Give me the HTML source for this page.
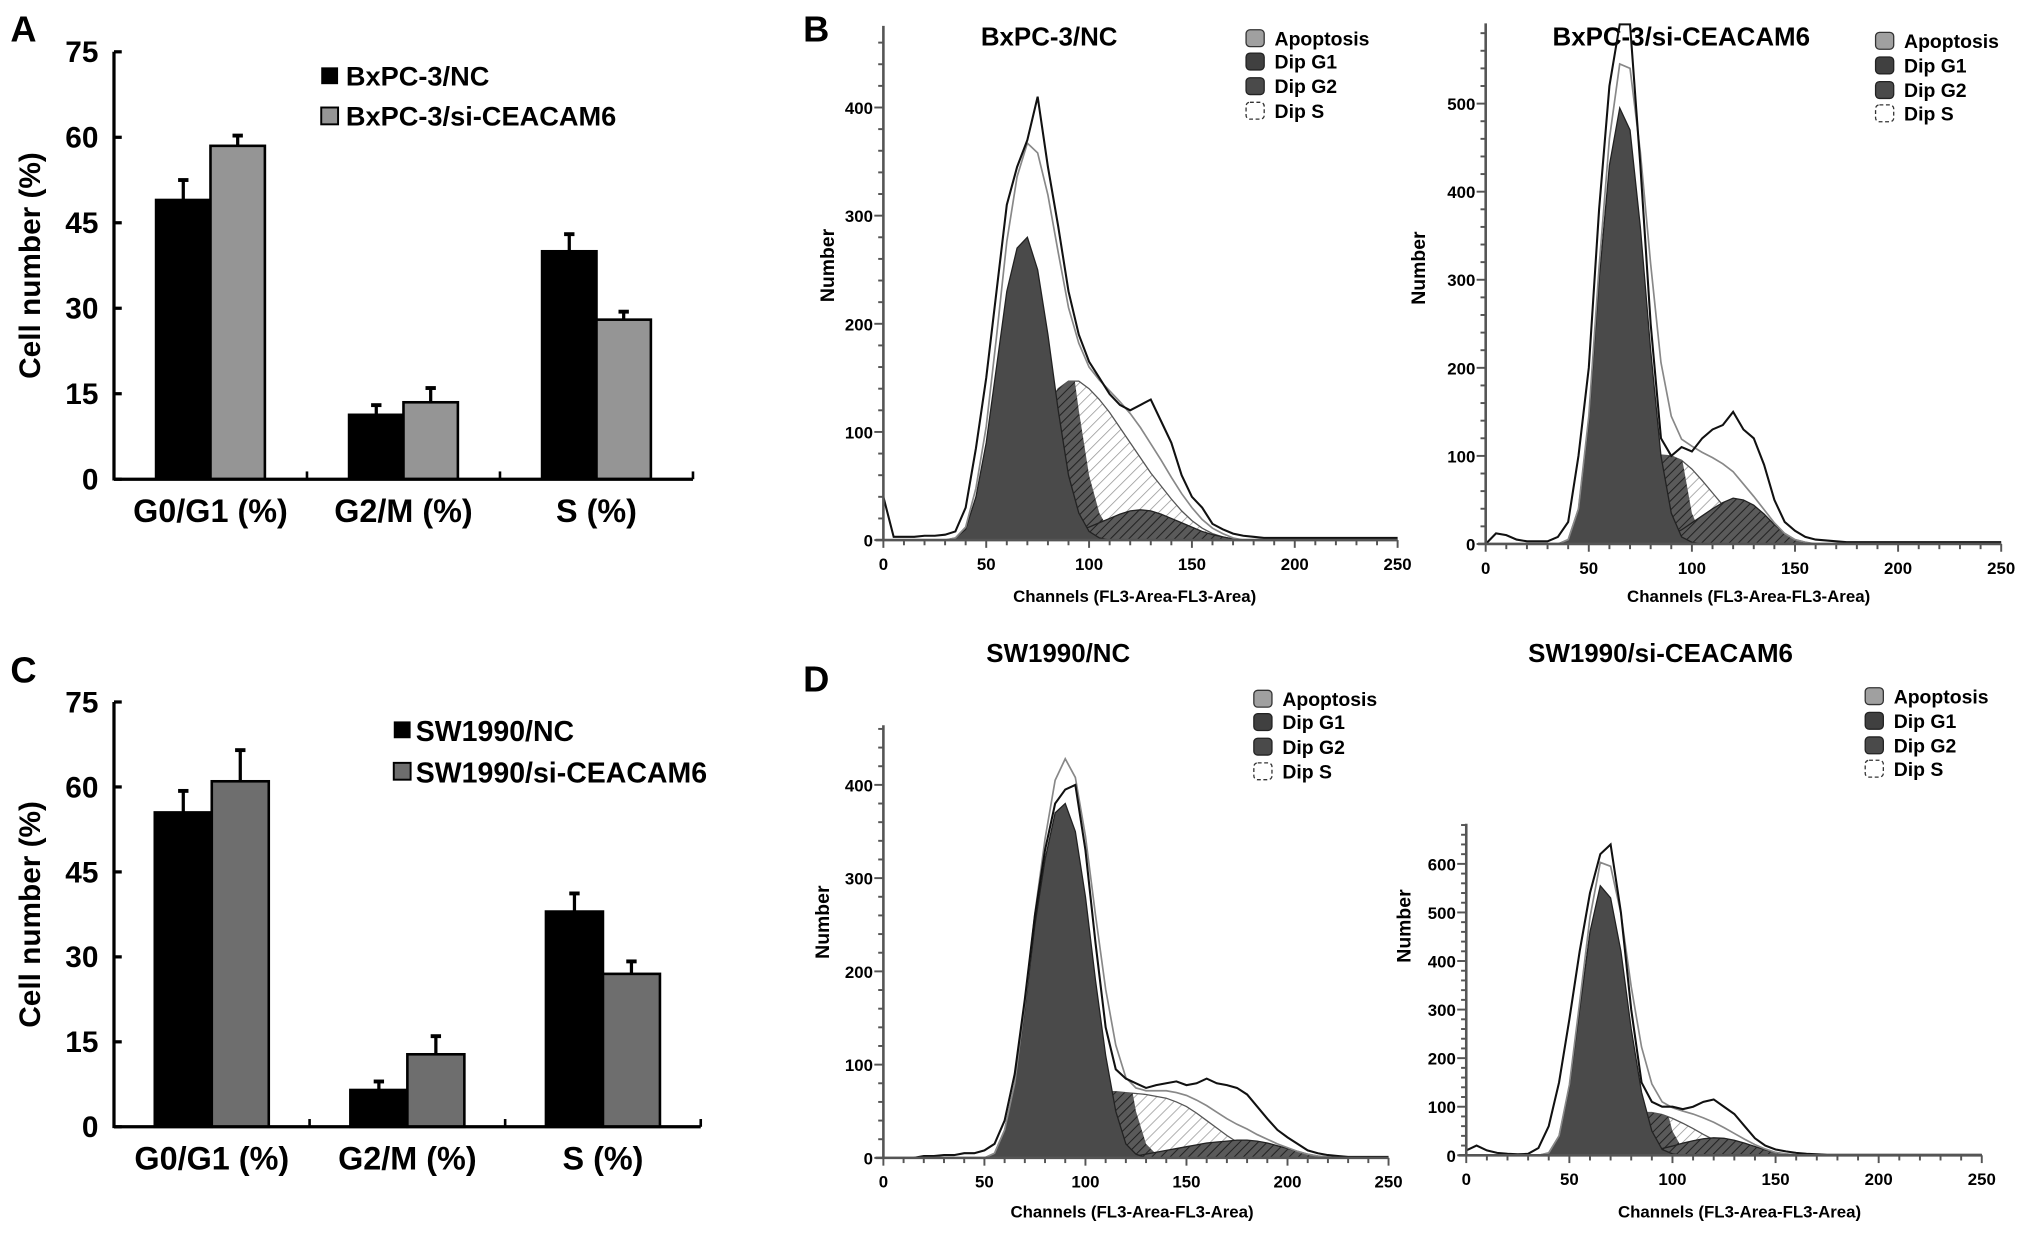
<!DOCTYPE html>
<html><head><meta charset="utf-8"><style>
html,body{margin:0;padding:0;background:#fff;}
svg{display:block;font-family:"Liberation Sans",Arial,sans-serif;font-weight:bold;}
</style></head><body>
<svg id="fig" xmlns="http://www.w3.org/2000/svg" width="2031" height="1233" viewBox="0 0 1568 952" preserveAspectRatio="none">
<defs>
<pattern id="hatchLight" patternUnits="userSpaceOnUse" width="6" height="6" patternTransform="rotate(45)"><rect width="6" height="6" fill="#fff"/><line x1="0" y1="0" x2="0" y2="6" stroke="#9a9a9a" stroke-width="1.2"/></pattern>
<pattern id="hatchDark" patternUnits="userSpaceOnUse" width="5" height="5" patternTransform="rotate(45)"><rect width="5" height="5" fill="#5a5a5a"/><line x1="0" y1="0" x2="0" y2="5" stroke="#222" stroke-width="1.6"/></pattern>
</defs>
<rect width="1568" height="952" fill="#fff"/>

<g>
<text x="8" y="32" font-size="28">A</text>
<text transform="translate(31,205) rotate(-90)" text-anchor="middle" font-size="23">Cell number (%)</text>
<rect x="248" y="52" width="13" height="13" fill="#000"/>
<text x="267" y="66" font-size="21">BxPC-3/NC</text>
<rect x="248" y="83" width="13" height="13" fill="#959595" stroke="#000" stroke-width="1.5"/>
<text x="267" y="97" font-size="21">BxPC-3/si-CEACAM6</text>
<g id="barsA"></g>
</g>

<g>
<text x="8" y="527" font-size="28">C</text>
<text transform="translate(31,706) rotate(-90)" text-anchor="middle" font-size="23">Cell number (%)</text>
<rect x="304" y="557" width="13" height="13" fill="#000"/>
<text x="321" y="572" font-size="22">SW1990/NC</text>
<rect x="304" y="589" width="13" height="13" fill="#6e6e6e" stroke="#000" stroke-width="1.5"/>
<text x="321" y="604" font-size="22">SW1990/si-CEACAM6</text>
<g id="barsC"></g>
</g>

<text x="620" y="32" font-size="28">B</text>
<text x="620" y="534" font-size="28">D</text>

<text x="810" y="35" text-anchor="middle" font-size="20">BxPC-3/NC</text>
<text x="1298" y="35" text-anchor="middle" font-size="20">BxPC-3/si-CEACAM6</text>
<text x="817" y="511" text-anchor="middle" font-size="20">SW1990/NC</text>
<text x="1282" y="511" text-anchor="middle" font-size="20">SW1990/si-CEACAM6</text>

<text x="876" y="465" text-anchor="middle" font-size="13">Channels (FL3-Area-FL3-Area)</text>
<text x="1350" y="465" text-anchor="middle" font-size="13">Channels (FL3-Area-FL3-Area)</text>
<text x="874" y="940" text-anchor="middle" font-size="13">Channels (FL3-Area-FL3-Area)</text>
<text x="1343" y="940" text-anchor="middle" font-size="13">Channels (FL3-Area-FL3-Area)</text>

<text transform="translate(644,205) rotate(-90)" text-anchor="middle" font-size="15">Number</text>
<text transform="translate(1100,207) rotate(-90)" text-anchor="middle" font-size="15">Number</text>
<text transform="translate(640,712) rotate(-90)" text-anchor="middle" font-size="15">Number</text>
<text transform="translate(1089,715) rotate(-90)" text-anchor="middle" font-size="15">Number</text>

<g>
<rect x="962" y="23" width="14" height="13" rx="3" fill="#a0a0a0" stroke="#333"/><text x="984" y="35" font-size="15">Apoptosis</text>
<rect x="962" y="41" width="14" height="13" rx="3" fill="#404040" stroke="#222"/><text x="984" y="53" font-size="15">Dip G1</text>
<rect x="962" y="60" width="14" height="13" rx="3" fill="#4a4a4a" stroke="#222"/><text x="984" y="72" font-size="15">Dip G2</text>
<rect x="962" y="79" width="14" height="13" rx="3" fill="#fff" stroke="#333" stroke-dasharray="3 2"/><text x="984" y="91" font-size="15">Dip S</text>
</g>
<g>
<rect x="1448" y="25" width="14" height="13" rx="3" fill="#a0a0a0" stroke="#333"/><text x="1470" y="37" font-size="15">Apoptosis</text>
<rect x="1448" y="44" width="14" height="13" rx="3" fill="#404040" stroke="#222"/><text x="1470" y="56" font-size="15">Dip G1</text>
<rect x="1448" y="63" width="14" height="13" rx="3" fill="#4a4a4a" stroke="#222"/><text x="1470" y="75" font-size="15">Dip G2</text>
<rect x="1448" y="81" width="14" height="13" rx="3" fill="#fff" stroke="#333" stroke-dasharray="3 2"/><text x="1470" y="93" font-size="15">Dip S</text>
</g>
<g>
<rect x="968" y="533" width="14" height="13" rx="3" fill="#a0a0a0" stroke="#333"/><text x="990" y="545" font-size="15">Apoptosis</text>
<rect x="968" y="551" width="14" height="13" rx="3" fill="#404040" stroke="#222"/><text x="990" y="563" font-size="15">Dip G1</text>
<rect x="968" y="570" width="14" height="13" rx="3" fill="#4a4a4a" stroke="#222"/><text x="990" y="582" font-size="15">Dip G2</text>
<rect x="968" y="589" width="14" height="13" rx="3" fill="#fff" stroke="#333" stroke-dasharray="3 2"/><text x="990" y="601" font-size="15">Dip S</text>
</g>
<g>
<rect x="1440" y="531" width="14" height="13" rx="3" fill="#a0a0a0" stroke="#333"/><text x="1462" y="543" font-size="15">Apoptosis</text>
<rect x="1440" y="550" width="14" height="13" rx="3" fill="#404040" stroke="#222"/><text x="1462" y="562" font-size="15">Dip G1</text>
<rect x="1440" y="569" width="14" height="13" rx="3" fill="#4a4a4a" stroke="#222"/><text x="1462" y="581" font-size="15">Dip G2</text>
<rect x="1440" y="587" width="14" height="13" rx="3" fill="#fff" stroke="#333" stroke-dasharray="3 2"/><text x="1462" y="599" font-size="15">Dip S</text>
</g>

<g id="histB1"></g>
<g id="histB2"></g>
<g id="histD1"></g>
<g id="histD2"></g>
</svg>
<script>
const barCategories = ["G0/G1 (%)", "G2/M (%)", "S (%)"];
const barTicks = [0, 15, 30, 45, 60, 75];
const ncValuesA = [49, 11.3, 40];
const ncErrA = [3.5, 1.7, 3.0];
const siValuesA = [58.5, 13.5, 28];
const siErrA = [1.8, 2.5, 1.4];
const ncValuesC = [55.5, 6.5, 38];
const ncErrC = [3.8, 1.5, 3.2];
const siValuesC = [61, 12.8, 27];
const siErrC = [5.5, 3.2, 2.2];

const channels = [0,5,10,15,20,25,30,35,40,45,50,55,60,65,70,75,80,85,90,95,100,105,110,115,120,125,130,135,140,145,150,155,160,165,170,175,180,185,190,195,200,205,210,215,220,225,230,235,240,245,250];
const xTickLabels = [0, 50, 100, 150, 200, 250];

const b1G1 = [0,0,0,0,0,0,0,2,10,40,90,160,230,270,280,250,190,120,60,25,8,2,0,0,0,0,0,0,0,0,0,0,0,0,0,0,0,0,0,0,0,0,0,0,0,0,0,0,0,0,0];
const b1S  = [0,0,0,0,0,0,0,0,2,8,15,28,45,65,85,105,125,140,147,147,140,130,118,104,90,76,62,50,38,27,18,11,6,3,1,0,0,0,0,0,0,0,0,0,0,0,0,0,0,0,0];
const b1G2 = [0,0,0,0,0,0,0,0,0,0,0,0,1,1,2,3,4,6,8,10,12,16,20,24,27,28,27,24,20,16,12,8,5,3,1,0,0,0,0,0,0,0,0,0,0,0,0,0,0,0,0];
const b1Raw = [40,3,3,3,4,4,5,8,30,85,150,230,310,345,370,410,345,290,230,190,165,150,135,125,120,125,130,110,90,60,40,30,15,10,6,4,3,2,2,2,2,2,2,2,2,2,2,2,2,2,2];

const b2G1 = [0,0,0,0,0,0,0,0,5,40,140,300,430,495,470,360,220,100,35,8,2,0,0,0,0,0,0,0,0,0,0,0,0,0,0,0,0,0,0,0,0,0,0,0,0,0,0,0,0,0,0];
const b2S  = [0,0,0,0,0,0,0,0,0,0,5,15,30,50,70,85,96,101,100,95,85,72,58,44,30,18,10,5,2,0,0,0,0,0,0,0,0,0,0,0,0,0,0,0,0,0,0,0,0,0,0];
const b2G2 = [0,0,0,0,0,0,0,0,0,0,0,0,0,0,0,0,2,5,10,16,24,32,40,47,52,50,44,34,22,12,5,2,0,0,0,0,0,0,0,0,0,0,0,0,0,0,0,0,0,0,0];
const b2Raw = [0,12,10,5,3,3,3,8,25,100,200,380,520,590,590,430,250,120,100,110,105,120,130,135,150,130,120,90,50,25,15,8,5,4,3,2,2,2,2,2,2,2,2,2,2,2,2,2,2,2,2];

const d1G1 = [0,0,0,0,0,0,0,0,0,0,0,5,30,80,160,250,320,370,380,350,280,190,110,50,15,4,0,0,0,0,0,0,0,0,0,0,0,0,0,0,0,0,0,0,0,0,0,0,0,0,0];
const d1S  = [0,0,0,0,0,0,0,0,0,0,0,0,0,0,5,12,22,35,48,58,65,70,71,71,70,69,68,66,64,60,55,48,40,32,24,17,12,7,4,2,1,0,0,0,0,0,0,0,0,0,0];
const d1G2 = [0,0,0,0,0,0,0,0,0,0,0,0,0,0,0,0,0,0,0,0,0,0,0,0,1,2,4,6,8,10,12,14,16,17,18,19,19,18,16,13,10,7,4,2,1,0,0,0,0,0,0];
const d1Raw = [0,0,0,0,2,2,3,3,5,5,8,15,40,90,170,260,330,380,395,400,330,230,140,95,85,80,75,78,80,82,78,80,85,80,78,75,68,55,42,30,22,15,8,5,3,2,1,1,1,1,1];

const d2G1 = [0,0,0,0,0,0,0,0,5,40,140,300,460,555,530,420,260,130,50,12,3,0,0,0,0,0,0,0,0,0,0,0,0,0,0,0,0,0,0,0,0,0,0,0,0,0,0,0,0,0,0];
const d2S  = [0,0,0,0,0,0,0,0,0,0,5,15,30,48,65,78,85,88,88,84,76,66,55,43,32,22,14,8,4,2,0,0,0,0,0,0,0,0,0,0,0,0,0,0,0,0,0,0,0,0,0];
const d2G2 = [0,0,0,0,0,0,0,0,0,0,0,0,0,0,0,0,2,5,9,14,19,25,30,34,36,35,31,25,18,11,6,3,1,0,0,0,0,0,0,0,0,0,0,0,0,0,0,0,0,0,0];
const d2Raw = [10,20,10,5,3,2,3,15,60,150,280,420,540,620,640,500,300,150,110,100,100,95,100,110,115,100,85,60,35,20,12,8,5,3,2,1,1,1,1,1,1,1,1,1,1,1,1,1,1,1,1];

const NS = 'http://www.w3.org/2000/svg';
function mk(tag, parent) { const e = document.createElementNS(NS, tag); parent.appendChild(e); return e; }

function drawBars(g, nc, ncE, si, siE, siColor, geo) {
  const y = v => geo.y0 - v / 75 * (geo.y0 - geo.yTop);
  const xC = i => geo.x0 + geo.cw * (i + 0.5);
  for (let i = 0; i < barCategories.length; i++) {
    const pairs = [[nc[i], ncE[i], '#000', -1], [si[i], siE[i], siColor, 0]];
    pairs.forEach(p => {
      const bx = xC(i) + p[3] * geo.bw;
      const eb = mk('line', g);
      
      
      eb.setAttribute('x1', bx + geo.bw / 2); eb.setAttribute('x2', bx + geo.bw / 2);
      eb.setAttribute('y1', y(p[0])); eb.setAttribute('y2', y(p[0] + p[1]));
      eb.setAttribute('stroke', '#000'); eb.setAttribute('stroke-width', '2.5');
      const cap = mk('line', g);
      
      
      cap.setAttribute('x1', bx + geo.bw / 2 - 4); cap.setAttribute('x2', bx + geo.bw / 2 + 4);
      cap.setAttribute('y1', y(p[0] + p[1])); cap.setAttribute('y2', y(p[0] + p[1]));
      cap.setAttribute('stroke', '#000'); cap.setAttribute('stroke-width', '3');
      const r = mk('rect', g);
      
      
      r.setAttribute('x', bx); r.setAttribute('width', geo.bw);
      r.setAttribute('y', y(p[0])); r.setAttribute('height', geo.y0 - y(p[0]));
      r.setAttribute('fill', p[2]); r.setAttribute('stroke', '#000'); r.setAttribute('stroke-width', '2');
    });
    const t = mk('text', g);
    
    
    t.setAttribute('x', xC(i)); t.setAttribute('y', geo.y0 + 33);
    t.setAttribute('text-anchor', 'middle'); t.setAttribute('font-size', '25');
    t.textContent = barCategories[i];
  }
  const ya = mk('line', g);
  
  
  ya.setAttribute('x1', geo.x0); ya.setAttribute('x2', geo.x0);
  ya.setAttribute('y1', geo.yTop); ya.setAttribute('y2', geo.y0 + 1);
  ya.setAttribute('stroke', '#000'); ya.setAttribute('stroke-width', '2.5');
  const xa = mk('line', g);
  
  
  xa.setAttribute('x1', geo.x0); xa.setAttribute('x2', geo.x0 + geo.cw * 3);
  xa.setAttribute('y1', geo.y0); xa.setAttribute('y2', geo.y0);
  xa.setAttribute('stroke', '#000'); xa.setAttribute('stroke-width', '2.5');
  for (let i = 1; i <= 3; i++) {
    const tk = mk('line', g);
    
    
    tk.setAttribute('x1', geo.x0 + geo.cw * i); tk.setAttribute('x2', geo.x0 + geo.cw * i);
    tk.setAttribute('y1', geo.y0); tk.setAttribute('y2', geo.y0 - 6);
    tk.setAttribute('stroke', '#000'); tk.setAttribute('stroke-width', '2');
  }
  barTicks.forEach(v => {
    const tk = mk('line', g);
    
    
    tk.setAttribute('x1', geo.x0); tk.setAttribute('x2', geo.x0 + 6);
    tk.setAttribute('y1', y(v)); tk.setAttribute('y2', y(v));
    tk.setAttribute('stroke', '#000'); tk.setAttribute('stroke-width', '2.5');
    const t = mk('text', g);
    
    
    t.setAttribute('x', geo.x0 - 12); t.setAttribute('y', y(v) + 8);
    t.setAttribute('text-anchor', 'end'); t.setAttribute('font-size', '23');
    t.textContent = v;
  });
}

drawBars(document.getElementById('barsA'), ncValuesA, ncErrA, siValuesA, siErrA, '#959595', {x0: 88, y0: 370, yTop: 40, cw: 149, bw: 42});
drawBars(document.getElementById('barsC'), ncValuesC, ncErrC, siValuesC, siErrC, '#6e6e6e', {x0: 88, y0: 870, yTop: 542, cw: 151, bw: 44});

function drawHist(g, G1, S, G2, raw, geo, idx) {
  const x = c => geo.x0 + c / 250 * (geo.x1 - geo.x0);
  const y = n => Math.max(geo.top, geo.y0 - n / geo.refVal * (geo.y0 - geo.yRef));
  const areaPath = arr => {
    let d = 'M' + x(channels[0]) + ',' + geo.y0;
    for (let i = 0; i < channels.length; i++) d += ' L' + x(channels[i]) + ',' + y(arr[i]);
    return d + ' L' + x(channels[channels.length - 1]) + ',' + geo.y0 + ' Z';
  };
  const linePath = arr => {
    let d = '';
    for (let i = 0; i < channels.length; i++) d += (i ? ' L' : 'M') + x(channels[i]) + ',' + y(arr[i]);
    return d;
  };
  const sp = mk('path', g);
  
  
  sp.setAttribute('d', areaPath(S)); sp.setAttribute('fill', 'url(#hatchLight)');
  sp.setAttribute('stroke', '#555'); sp.setAttribute('stroke-width', '1');
  // clip: region left of G1 right flank shifted right
  const shift = 10;
  const cid = 'clipG1' + idx;
  const cp = mk('clipPath', g); cp.setAttribute('id', cid);
  const cr = mk('path', cp);
  const pk = G1.indexOf(Math.max(...G1));
  let last = pk; for (let i = pk; i < channels.length; i++) if (G1[i] > 0) last = i;
  let cd = 'M0,0 L' + x(channels[pk] + shift) + ',0';
  for (let i = pk; i <= last + 1 && i < channels.length; i++) cd += ' L' + x(channels[i] + shift) + ',' + y(G1[i]);
  cd += ' L' + x(channels[Math.min(last + 1, channels.length - 1)] + shift) + ',' + (geo.y0 + 2) + ' L0,' + (geo.y0 + 2) + ' Z';
  cr.setAttribute('d', cd);
  const sd = mk('path', g);
  
  
  sd.setAttribute('d', areaPath(S)); sd.setAttribute('fill', 'url(#hatchDark)');
  sd.setAttribute('clip-path', 'url(#' + cid + ')');
  const g2 = mk('path', g);
  
  
  g2.setAttribute('d', areaPath(G2)); g2.setAttribute('fill', 'url(#hatchDark)');
  g2.setAttribute('stroke', '#222'); g2.setAttribute('stroke-width', '1');
  const g1 = mk('path', g);
  
  
  g1.setAttribute('d', areaPath(G1)); g1.setAttribute('fill', '#4a4a4a');
  g1.setAttribute('stroke', '#222'); g1.setAttribute('stroke-width', '1');
  const fit = channels.map((c, i) => G1[i] + S[i] + G2[i]);
  const fl = mk('path', g);
  
  
  fl.setAttribute('d', linePath(fit)); fl.setAttribute('fill', 'none');
  fl.setAttribute('stroke', '#888'); fl.setAttribute('stroke-width', '1.3');
  const rl = mk('path', g);
  
  
  rl.setAttribute('d', linePath(raw)); rl.setAttribute('fill', 'none');
  rl.setAttribute('stroke', '#111'); rl.setAttribute('stroke-width', '1.6');
  const ya = mk('line', g);
  
  
  ya.setAttribute('x1', geo.x0); ya.setAttribute('x2', geo.x0);
  ya.setAttribute('y1', geo.top); ya.setAttribute('y2', geo.y0);
  ya.setAttribute('stroke', '#555'); ya.setAttribute('stroke-width', '2');
  const xa = mk('line', g);
  
  
  xa.setAttribute('x1', geo.x0 - 6); xa.setAttribute('x2', geo.x1);
  xa.setAttribute('y1', geo.y0); xa.setAttribute('y2', geo.y0);
  xa.setAttribute('stroke', '#555'); xa.setAttribute('stroke-width', '2');
  for (let c = 0; c <= 250; c += 10) {
    const tk = mk('line', g);
    
    
    tk.setAttribute('x1', x(c)); tk.setAttribute('x2', x(c));
    tk.setAttribute('y1', geo.y0); tk.setAttribute('y2', geo.y0 + (c % 50 === 0 ? 6 : 4));
    tk.setAttribute('stroke', '#555'); tk.setAttribute('stroke-width', '1.5');
  }
  xTickLabels.forEach(c => {
    const t = mk('text', g);
    
    
    t.setAttribute('x', x(c)); t.setAttribute('y', geo.y0 + 23);
    t.setAttribute('text-anchor', 'middle'); t.setAttribute('font-size', '13');
    t.textContent = c;
  });
  for (let n = 0; ; n += geo.minor) {
    const yy = geo.y0 - n / geo.refVal * (geo.y0 - geo.yRef);
    if (yy < geo.top) break;
    const major = n % 100 === 0;
    const tk = mk('line', g);
    
    
    tk.setAttribute('x1', geo.x0 - (major ? 7 : 4)); tk.setAttribute('x2', geo.x0);
    tk.setAttribute('y1', yy); tk.setAttribute('y2', yy);
    tk.setAttribute('stroke', '#555'); tk.setAttribute('stroke-width', '1.5');
    if (major) {
      const t = mk('text', g);
      
      
      t.setAttribute('x', geo.x0 - 8); t.setAttribute('y', yy + 5);
      t.setAttribute('text-anchor', 'end'); t.setAttribute('font-size', '13');
      t.textContent = n;
    }
  }
}

drawHist(document.getElementById('histB1'), b1G1, b1S, b1G2, b1Raw, {x0: 682, x1: 1079, y0: 417, yRef: 83, refVal: 400, top: 20, minor: 20}, 1);
drawHist(document.getElementById('histB2'), b2G1, b2S, b2G2, b2Raw, {x0: 1147, x1: 1545, y0: 420, yRef: 80, refVal: 500, top: 18, minor: 20}, 2);
drawHist(document.getElementById('histD1'), d1G1, d1S, d1G2, d1Raw, {x0: 682, x1: 1072, y0: 894, yRef: 606, refVal: 400, top: 560, minor: 20}, 3);
drawHist(document.getElementById('histD2'), d2G1, d2S, d2G2, d2Raw, {x0: 1132, x1: 1530, y0: 892, yRef: 667, refVal: 600, top: 636, minor: 20}, 4);
</script>
</body></html>
